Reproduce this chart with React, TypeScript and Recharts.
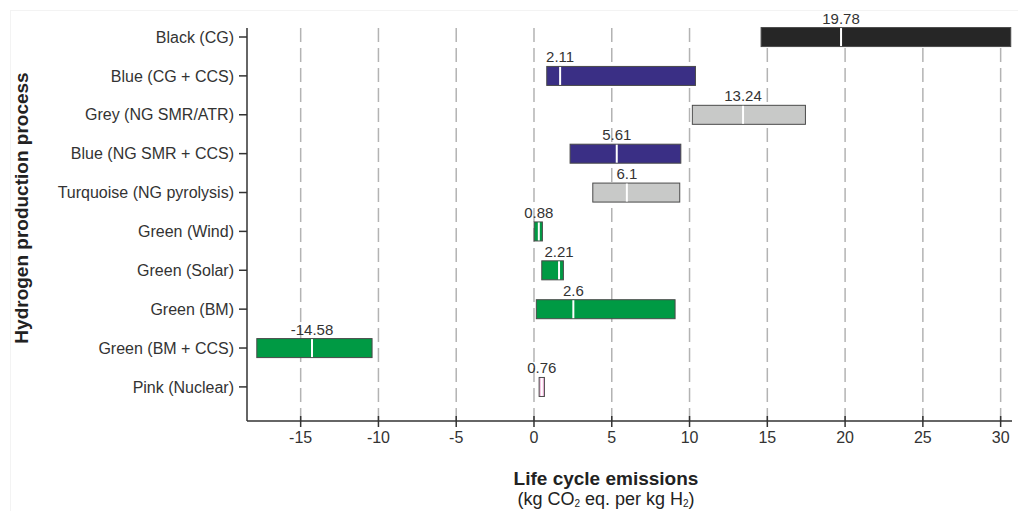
import { BarChart, Bar, XAxis, YAxis, CartesianGrid } from "recharts";

const processes = [
  "Black (CG)",
  "Blue (CG + CCS)",
  "Grey (NG SMR/ATR)",
  "Blue (NG SMR + CCS)",
  "Turquoise (NG pyrolysis)",
  "Green (Wind)",
  "Green (Solar)",
  "Green (BM)",
  "Green (BM + CCS)",
  "Pink (Nuclear)",
];

// min / max of the range bars (kg CO2 eq. per kg H2)
const lows = [14.6, 0.82, 10.18, 2.32, 3.78, 0.01, 0.5, 0.15, -17.82, 0.33];
const highs = [30.65, 10.38, 17.45, 9.44, 9.37, 0.54, 1.89, 9.07, -10.41, 0.67];
// where the white marker sits, and the printed value above it
const markers = [19.74, 1.68, 13.44, 5.32, 5.97, 0.31, 1.61, 2.53, -14.27, 0.5];
const labels = ["19.78", "2.11", "13.24", "5.61", "6.1", "0.88", "2.21", "2.6", "-14.58", "0.76"];
const fills = [
  "#262626",
  "#3a2f85",
  "#c8c9c8",
  "#3a2f85",
  "#c8c9c8",
  "#009a44",
  "#009a44",
  "#009a44",
  "#009a44",
  "#f2b8dc",
];
const xTicks = [-15, -10, -5, 0, 5, 10, 15, 20, 25, 30];
const xDomain = [-18.45, 30.73];

const data = processes.map((name, i) => ({
  name,
  pos: i + 1,
  range: [lows[i], highs[i]],
  marker: markers[i],
  label: labels[i],
  fill: fills[i],
}));

const FONT = '"Liberation Sans", Arial, sans-serif';

function RangeBar(props: any) {
  const { x, y, width, height, payload } = props;
  const [lo, hi] = payload.range;
  const mx = x + (width * (payload.marker - lo)) / (hi - lo);
  return (
    <g>
      <rect x={x} y={y} width={width} height={height} fill={payload.fill} stroke="#4a4a4a" strokeWidth={1} />
      <line x1={mx} x2={mx} y1={y + 0.5} y2={y + height - 0.5} stroke="#fff" strokeWidth={2} />
      <text x={mx} y={y - 4} textAnchor="middle" fontSize={15} fill="#333" fontFamily={FONT}>
        {payload.label}
      </text>
    </g>
  );
}

function XTick(props: any) {
  const { x, y, payload } = props;
  return (
    <g>
      <line x1={x} x2={x} y1={y - 11} y2={y - 16} stroke="#333" strokeWidth={1.5} />
      <text x={x} y={y} dy="0.71em" textAnchor="middle" fontSize={16} fill="#333" fontFamily={FONT}>
        {payload.value}
      </text>
    </g>
  );
}

export default function App() {
  return (
    <div style={{ position: "relative", width: 1018, height: 511, background: "#fff", fontFamily: FONT }}>
      <style>{"body{margin:0}"}</style>
      <div
        style={{
          position: "absolute",
          left: 10,
          top: 10,
          right: 0,
          bottom: 0,
          borderTop: "1px solid #f3f3f3",
          borderLeft: "1px solid #f3f3f3",
        }}
      />
      <BarChart
        width={1018}
        height={511}
        data={data}
        layout="vertical"
        margin={{ top: 28, right: 6, bottom: 0, left: 0 }}
        style={{ position: "absolute", left: 0, top: 0 }}
      >
        <CartesianGrid
          horizontal={false}
          stroke="#b3b3b3"
          strokeWidth={1.5}
          strokeDasharray="14 6"
          verticalCoordinatesGenerator={({ offset }: any) =>
            xTicks.map((t) => offset.left + ((t - xDomain[0]) / (xDomain[1] - xDomain[0])) * offset.width)
          }
        />
        <XAxis
          type="number"
          domain={xDomain}
          ticks={xTicks}
          height={90}
          tickSize={6}
          tickMargin={5}
          axisLine={{ stroke: "#333", strokeWidth: 1.5 }}
          tickLine={{ stroke: "#333", strokeWidth: 1.5 }}
          tick={<XTick />}
        />
        <YAxis
          type="number"
          dataKey="pos"
          domain={[0.7685, 10.877]}
          ticks={[1, 2, 3, 4, 5, 6, 7, 8, 9, 10]}
          width={247}
          tickSize={8}
          tickMargin={5}
          tickFormatter={(v: number) => processes[v - 1] ?? ""}
          tick={{ fontSize: 16, fill: "#333", fontFamily: FONT }}
          axisLine={{ stroke: "#333", strokeWidth: 1.5 }}
          tickLine={{ stroke: "#333", strokeWidth: 1.5 }}
          interval={0}
        />
        <Bar dataKey="range" barSize={19} shape={<RangeBar />} isAnimationActive={false} />
      </BarChart>
      <div
        style={{
          position: "absolute",
          left: 22,
          top: 208,
          transform: "translate(-50%, -50%) rotate(-90deg)",
          whiteSpace: "nowrap",
          fontSize: 19,
          fontWeight: "bold",
          color: "#222",
        }}
      >
        Hydrogen production process
      </div>
      <div
        style={{
          position: "absolute",
          left: 606,
          top: 469,
          transform: "translateX(-50%)",
          whiteSpace: "nowrap",
          textAlign: "center",
          color: "#222",
          lineHeight: "20px",
        }}
      >
        <div style={{ fontSize: 19, fontWeight: "bold" }}>Life cycle emissions</div>
        <div style={{ fontSize: 18 }}>
          (kg CO<sub style={{ fontSize: 10, verticalAlign: "-2px" }}>2</sub> eq. per kg H
          <sub style={{ fontSize: 10, verticalAlign: "-2px" }}>2</sub>)
        </div>
      </div>
    </div>
  );
}
